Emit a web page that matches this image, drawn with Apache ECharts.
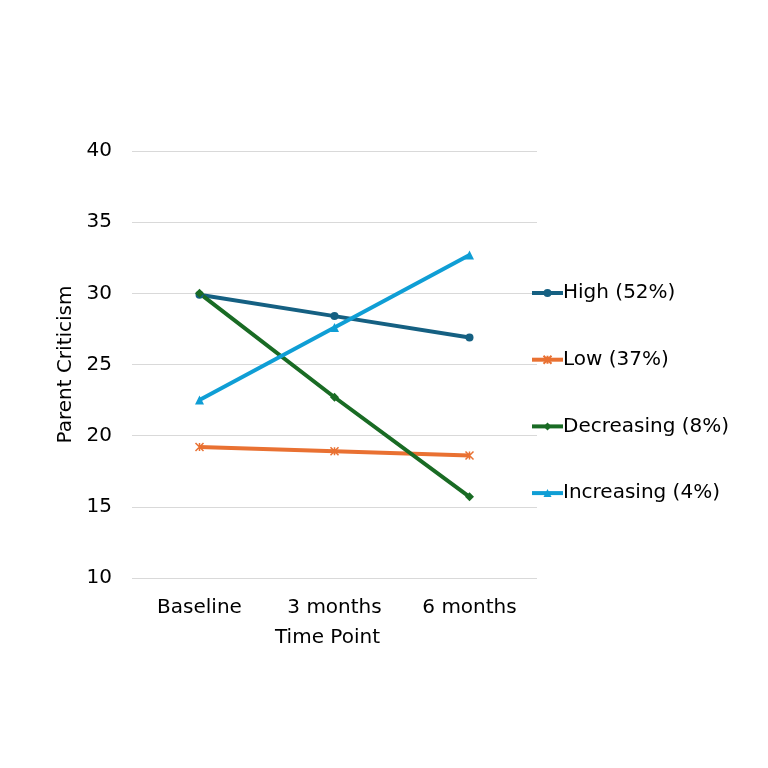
<!DOCTYPE html>
<html><head><meta charset="utf-8">
<script src="https://cdn.jsdelivr.net/npm/echarts@6/dist/echarts.min.js"></script>
<style>html,body{margin:0;padding:0;background:#fff}#c{width:768px;height:768px}</style>
</head><body><div id="c"></div>
<script>
const categories = ['Baseline', '3 months', '6 months'];
const seriesNames = ['High (52%)', 'Low (37%)', 'Decreasing (8%)', 'Increasing (4%)'];
const highValues = [29.9, 28.4, 26.9];
const lowValues = [19.2, 18.9, 18.6];
const decreasingValues = [30.0, 22.7, 15.7];
const increasingValues = [22.5, 27.6, 32.7];
const yTicks = [10, 15, 20, 25, 30, 35, 40];

const font = 'DejaVu Sans, sans-serif';
const colors = ['#156082', '#E97132', '#196B24', '#0F9ED5'];
const symbols = ['circle', 'path://M0,0L10,10M10,0L0,10M5,0L5,10', 'diamond', 'triangle'];
const sizes = [8, 8, 9, 9];
const dataSets = [highValues, lowValues, decreasingValues, increasingValues];

const chart = echarts.init(document.getElementById('c'));
chart.setOption({
  animation: false,
  backgroundColor: '#fff',
  grid: { left: 132, right: 231, top: 151, bottom: 190 },
  legend: {
    orient: 'vertical', left: 525, top: 277,
    itemWidth: 31, itemHeight: 10, itemGap: 44.7,
    lineStyle: { width: 4 },
    textStyle: { fontFamily: font, fontSize: 20, color: '#000', lineHeight: 22, padding: [0, 0, 0, -5] },
    data: seriesNames
  },
  xAxis: {
    type: 'category', data: categories, boundaryGap: true,
    axisLine: { show: false }, axisTick: { show: false },
    axisLabel: { fontFamily: font, fontSize: 20, color: '#000', margin: 20 },
    name: 'Time Point', nameLocation: 'middle', nameGap: 50,
    nameTextStyle: { fontFamily: font, fontSize: 20, color: '#000', padding: [0, 14, 0, 0] }
  },
  yAxis: {
    type: 'value', min: yTicks[0], max: yTicks[yTicks.length - 1], interval: 5,
    axisLine: { show: false }, axisTick: { show: false },
    splitLine: { lineStyle: { color: '#d9d9d9', width: 1 } },
    axisLabel: { fontFamily: font, fontSize: 20, color: '#000', margin: 20 },
    name: 'Parent Criticism', nameLocation: 'middle', nameGap: 52,
    nameTextStyle: { fontFamily: font, fontSize: 20, color: '#000' }
  },
  series: seriesNames.map((n, i) => ({
    name: n, type: 'line', data: dataSets[i],
    symbol: symbols[i], symbolSize: sizes[i], showAllSymbol: true,
    lineStyle: { color: colors[i], width: 4 },
    itemStyle: { color: colors[i], borderColor: colors[i], borderWidth: i === 1 ? 1.5 : 0 }
  }))
});
</script></body></html>
